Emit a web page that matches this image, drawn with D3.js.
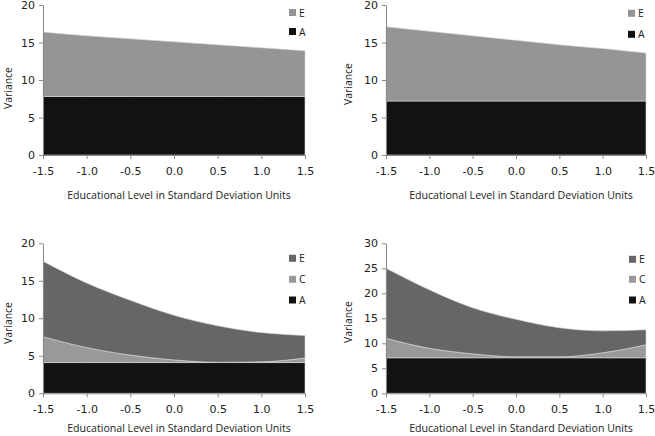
<!DOCTYPE html>
<html><head><meta charset="utf-8">
<script src="https://cdn.jsdelivr.net/npm/d3@7"></script>
<style>body{margin:0;background:#fff}svg{display:block}</style>
</head><body>
<svg id="c" width="655" height="436"></svg>
<script>
// Educational level (SD units)
const edu = [-1.5, -1.0, -0.5, 0.0, 0.5, 1.0, 1.5];
const xTicks = [-1.5, -1.0, -0.5, 0.0, 0.5, 1.0, 1.5];

// Panel 1 (top-left): A, E
const p1A = [7.8, 7.8, 7.8, 7.8, 7.8, 7.8, 7.8];
const p1E = [8.6, 8.1, 7.7, 7.3, 6.9, 6.5, 6.1];
// Panel 2 (top-right): A, E
const p2A = [7.2, 7.2, 7.2, 7.2, 7.2, 7.2, 7.2];
const p2E = [9.9, 9.3, 8.7, 8.1, 7.5, 7.0, 6.4];
// Panel 3 (bottom-left): A, C, E
const p3A = [4.1, 4.1, 4.1, 4.1, 4.1, 4.1, 4.1];
const p3C = [3.45, 2.0, 1.0, 0.35, 0.05, 0.1, 0.6];
const p3E = [10.05, 8.6, 7.3, 5.95, 4.85, 3.9, 3.0];
// Panel 4 (bottom-right): A, C, E
const p4A = [7.1, 7.1, 7.1, 7.1, 7.1, 7.1, 7.1];
const p4C = [3.9, 1.9, 0.8, 0.2, 0.2, 1.0, 2.6];
const p4E = [14.0, 11.7, 9.2, 7.5, 5.8, 4.4, 3.0];

const yTicksTop = [0, 5, 10, 15, 20];
const yTicks4 = [0, 5, 10, 15, 20, 25, 30];

const xTitle = "Educational Level in Standard Deviation Units";
const yTitle = "Variance";

const panels = [
  {series:{A:p1A, E:p1E}, keys:["A","E"], colors:{A:"#121212", E:"#959595"}, yMax:20, yTicks:yTicksTop,
   x0:43, x1:305, yb:155, yt:5, legY:{E:12.5, A:31.5}, legX:289, yTitleX:12, yTitleY:88, xTitleY:198.5},
  {series:{A:p2A, E:p2E}, keys:["A","E"], colors:{A:"#121212", E:"#959595"}, yMax:20, yTicks:yTicksTop,
   x0:386, x1:646, yb:155, yt:5, legY:{E:13.3, A:34.3}, legX:628, yTitleX:352, yTitleY:84, xTitleY:198.5},
  {series:{A:p3A, C:p3C, E:p3E}, keys:["A","C","E"], colors:{A:"#121212", C:"#999999", E:"#666666"}, yMax:20, yTicks:yTicksTop,
   x0:43, x1:305, yb:393.3, yt:243.3, legY:{E:258.3, C:279.3, A:300}, legX:289, yTitleX:12, yTitleY:323, xTitleY:431.5},
  {series:{A:p4A, C:p4C, E:p4E}, keys:["A","C","E"], colors:{A:"#121212", C:"#999999", E:"#666666"}, yMax:30, yTicks:yTicks4,
   x0:386, x1:646, yb:393.3, yt:243.3, legY:{E:259.3, C:279.3, A:300}, legX:629, yTitleX:352, yTitleY:322, xTitleY:431.5}
];

const svg = d3.select("#c");

panels.forEach(p => {
  const g = svg.append("g");
  const x = d3.scaleLinear().domain([-1.5, 1.5]).range([p.x0, p.x1]);
  const y = d3.scaleLinear().domain([0, p.yMax]).range([p.yb, p.yt]);
  const rows = edu.map((e, i) => {
    const r = {edu: e};
    p.keys.forEach(k => r[k] = p.series[k][i]);
    return r;
  });
  const stack = d3.stack().keys(p.keys)(rows);
  const area = d3.area()
    .x(d => x(d.data.edu))
    .y0(d => y(d[0]))
    .y1(d => y(d[1]))
    .curve(d3.curveMonotoneX);
  g.selectAll("path.layer").data(stack).join("path")
    .attr("class", "layer")
    .attr("d", area)
    .attr("fill", d => p.colors[d.key])
    .attr("stroke", "#d8d8d8").attr("stroke-width", 0.6);

  // axes
  const ax = g.append("g").attr("transform", `translate(0,${p.yb})`)
    .call(d3.axisBottom(x).tickValues(xTicks).tickFormat(d3.format(".1f")).tickSize(4).tickPadding(8).tickSizeOuter(0));
  const ay = g.append("g").attr("transform", `translate(${p.x0},0)`)
    .call(d3.axisLeft(y).tickValues(p.yTicks).tickSize(4).tickPadding(4).tickSizeOuter(0));
  [ax, ay].forEach(a => {
    a.select(".domain").attr("stroke", "#8a8a8a");
    a.selectAll(".tick line").attr("stroke", "#8a8a8a");
    a.selectAll(".tick text").attr("fill", "#222").style("font-family", "DejaVu Sans").style("font-size", "11px");
  });
  ax.selectAll(".tick text").text(d => d3.format(".1f")(d).replace("−", "-"));

  // axis titles
  g.append("text").attr("x", (p.x0 + p.x1) / 2 + 5).attr("y", p.xTitleY)
    .attr("text-anchor", "middle").style("font-family", "Open Sans").style("font-size", "10.6px").attr("fill", "#222")
    .text(xTitle);
  g.append("text").attr("transform", `translate(${p.yTitleX},${p.yTitleY}) rotate(-90)`)
    .attr("text-anchor", "middle").style("font-family", "Open Sans").style("font-size", "10.4px").attr("fill", "#222")
    .text(yTitle);

  // legend
  const leg = g.selectAll("g.leg").data(p.keys).join("g").attr("class", "leg")
    .attr("transform", k => `translate(${p.legX},${p.legY[k]})`);
  leg.append("rect").attr("x", 0).attr("y", -3.5).attr("width", 7).attr("height", 7).attr("fill", k => p.colors[k]);
  leg.append("text").attr("x", 10).attr("y", 4).style("font-family", "Open Sans").style("font-size", "10.5px").attr("fill", "#222").text(k => k);
});
</script>
</body></html>
